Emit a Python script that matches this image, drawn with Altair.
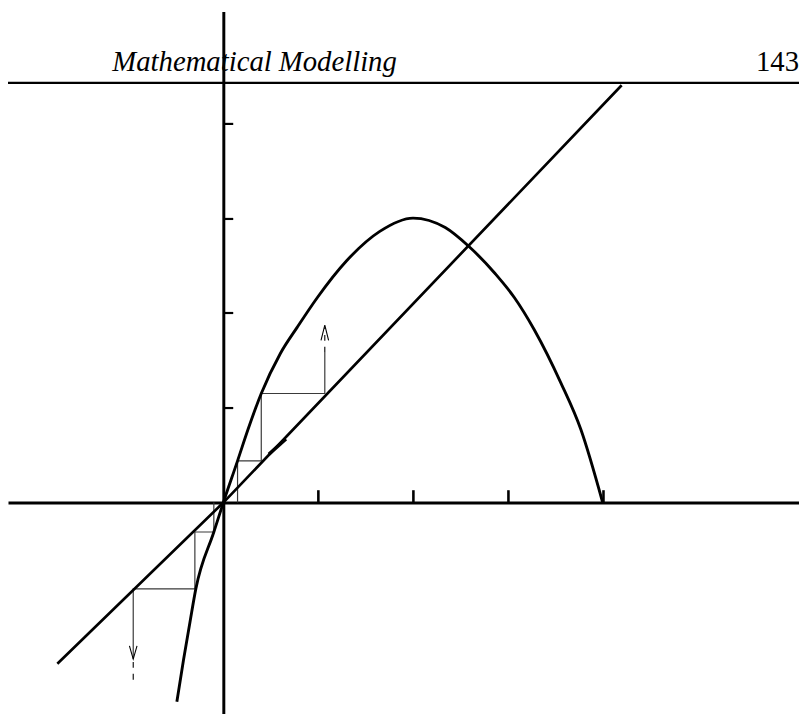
import altair as alt
import pandas as pd

# ---- values (data units: one tick = 1) ----
curve_x = [-0.49, -0.42, -0.35, -0.29, -0.10, 0.00, 0.15, 0.26, 0.40, 0.60, 0.78, 0.99,
           1.30, 1.65, 2.00, 2.34, 2.59, 2.87, 3.07, 3.28, 3.56, 3.77, 4.00]
curve_y = [-2.10, -1.66, -1.25, -0.91, -0.31, 0.00, 0.44, 0.77, 1.15, 1.57, 1.85, 2.16,
           2.55, 2.86, 3.00, 2.90, 2.70, 2.41, 2.16, 1.82, 1.26, 0.77, 0.00]

diag_x = [-1.75, 0.00, 4.20]
diag_y = [-1.70, 0.00, 4.40]

seg_x = [0.48, 0.66]
seg_y = [0.51, 0.67]

web_pos_x = [0.15, 0.15, 0.40, 0.40, 1.07, 1.07]
web_pos_y = [0.00, 0.44, 0.44, 1.15, 1.15, 1.58]
web_neg_x = [-0.10, -0.10, -0.30, -0.30, -0.95, -0.95]
web_neg_y = [0.00, -0.31, -0.31, -0.91, -0.91, -1.65]

head_up_x = [1.03, 1.07, 1.11]
head_up_y = [1.71, 1.87, 1.71]
head_dn_x = [-0.99, -0.95, -0.91]
head_dn_y = [-1.51, -1.65, -1.51]

tail_x = [1.07, -0.95]
tail_y = [1.58, -1.68]
tail_y2 = [1.84, -1.91]

tick_values = [1, 2, 3, 4]

header_texts = ["Mathematical Modelling", "143"]
header_x = [-1.17, 6.07]
header_y = [4.55, 4.55]
rule_x = [-2.40]
rule_x2 = [6.20]
rule_y = [4.426]

# ---- layout ----
W, H = 799, 709
X_DOMAIN = [-2.2704, 6.0699]
Y_DOMAIN = [-2.2234, 5.1775]

xs = alt.Scale(domain=X_DOMAIN, nice=False, zero=False)
ys = alt.Scale(domain=Y_DOMAIN, nice=False, zero=False)

x_axis = alt.Axis(orient="top", offset=-496, values=tick_values, labels=False, title=None,
                  grid=False, domainColor="black", domainWidth=3, tickColor="black",
                  tickWidth=2.6, tickSize=13)
y_axis = alt.Axis(orient="right", offset=-581.5, values=tick_values, labels=False, title=None,
                  grid=False, domainColor="black", domainWidth=3, tickColor="black",
                  tickWidth=2.2, tickSize=9.5)


def X(f="x"):
    return alt.X(f"{f}:Q", scale=xs, axis=x_axis)


def Y(f="y"):
    return alt.Y(f"{f}:Q", scale=ys, axis=y_axis)


def poly(xv, yv, name):
    return pd.DataFrame({"x": xv, "y": yv, "o": list(range(len(xv))), "g": name})


curve_df = poly(curve_x, curve_y, "curve")
diag_df = poly(diag_x, diag_y, "diag")
seg_df = poly(seg_x, seg_y, "seg")
web_df = pd.concat([poly(web_pos_x, web_pos_y, "pos"), poly(web_neg_x, web_neg_y, "neg")])
head_df = pd.concat([poly(head_up_x, head_up_y, "up"), poly(head_dn_x, head_dn_y, "dn")])
tail_df = pd.DataFrame({"x": tail_x, "y": tail_y, "y2": tail_y2})
text_df = pd.DataFrame({"x": header_x, "y": header_y, "t": header_texts})
rule_df = pd.DataFrame({"x": rule_x, "x2": rule_x2, "y": rule_y})

curve = alt.Chart(curve_df).mark_line(color="black", strokeWidth=2.9, interpolate="monotone").encode(
    x=X(), y=Y(), order="o:Q")
diag = alt.Chart(diag_df).mark_line(color="black", strokeWidth=2.7).encode(
    x=X(), y=Y(), order="o:Q")
seg = alt.Chart(seg_df).mark_line(color="black", strokeWidth=3.6).encode(
    x=X(), y=Y(), order="o:Q")
web = alt.Chart(web_df).mark_line(color="#3a3a3a", strokeWidth=1.2).encode(
    x=X(), y=Y(), detail="g:N", order="o:Q")
heads = alt.Chart(head_df).mark_line(color="black", strokeWidth=1.1).encode(
    x=X(), y=Y(), detail="g:N", order="o:Q")
tails = alt.Chart(tail_df).mark_rule(color="black", strokeWidth=1.1, strokeDash=[6, 6]).encode(
    x=X(), y=Y(), y2=alt.Y2("y2:Q"))
hrule = alt.Chart(rule_df).mark_rule(color="black", strokeWidth=2.2).encode(
    x=X(), x2=alt.X2("x2:Q"), y=Y())
title_txt = alt.Chart(text_df.iloc[[0]]).mark_text(
    font="Liberation Serif", fontStyle="italic", fontSize=29, align="left",
    baseline="alphabetic", color="black").encode(x=X(), y=Y(), text="t:N")
page_txt = alt.Chart(text_df.iloc[[1]]).mark_text(
    font="Liberation Serif", fontSize=29, align="right",
    baseline="alphabetic", color="black").encode(x=X(), y=Y(), text="t:N")

chart = alt.layer(hrule, web, tails, heads, diag, seg, curve, title_txt, page_txt).properties(
    width=W, height=H, padding=0, autosize=alt.AutoSizeParams(type="none"),
    background="white"
).configure_view(strokeWidth=0)

chart.save("out.html", embed_options={"renderer": "svg", "actions": False})
